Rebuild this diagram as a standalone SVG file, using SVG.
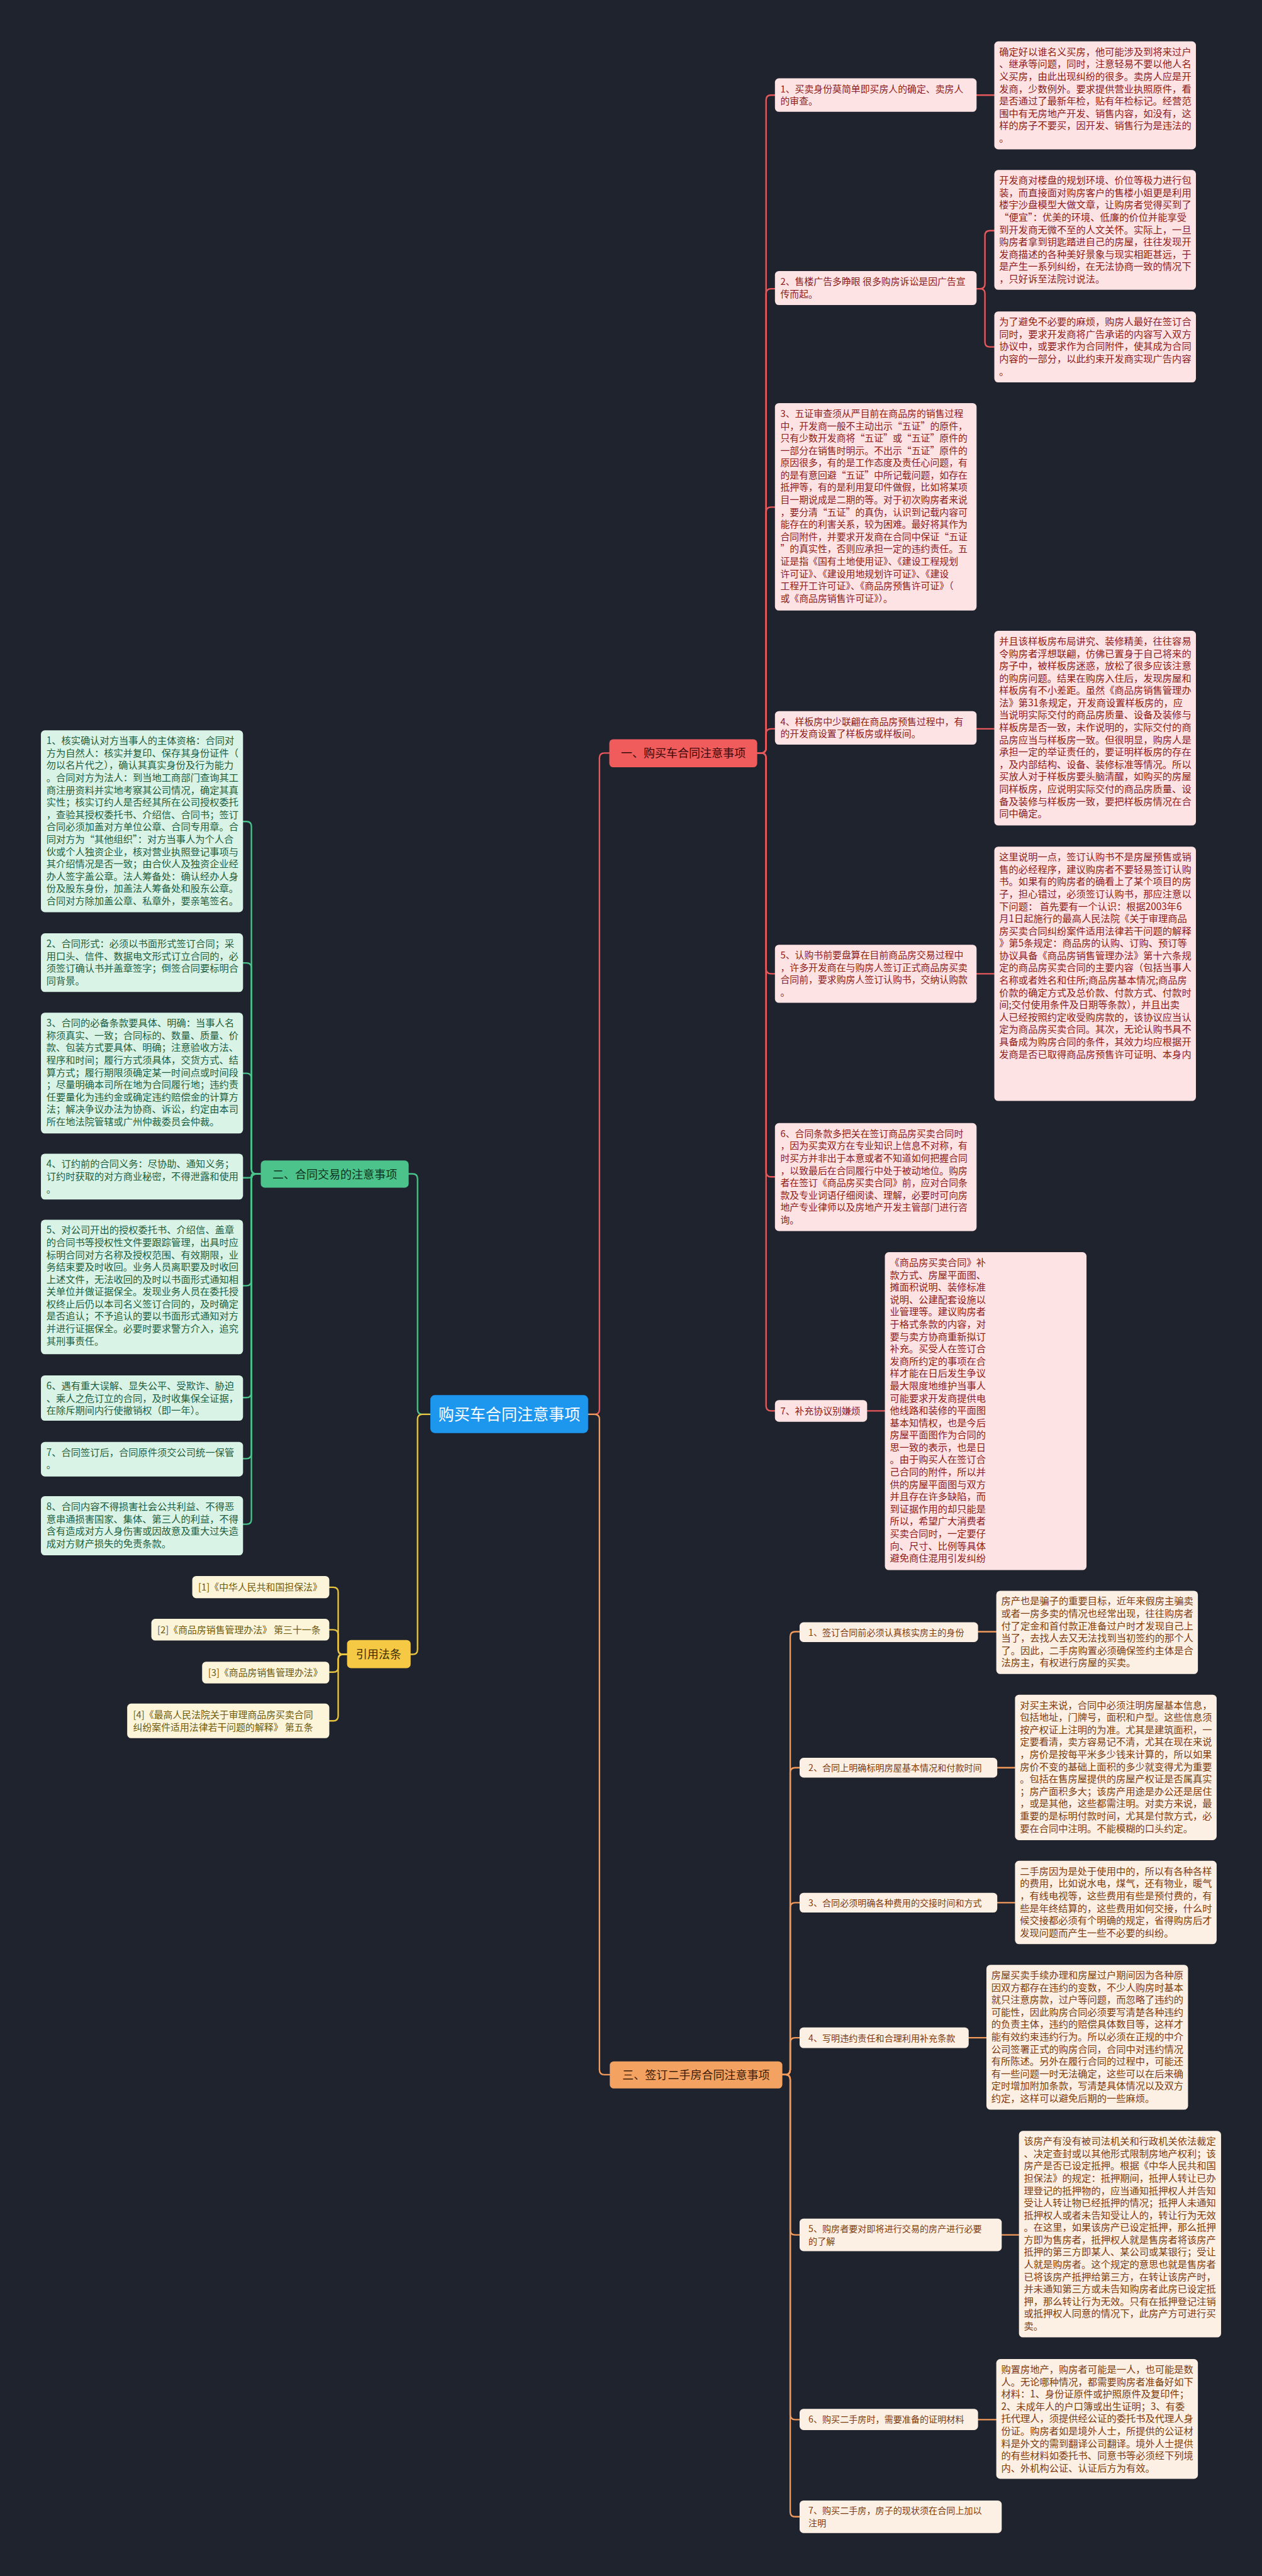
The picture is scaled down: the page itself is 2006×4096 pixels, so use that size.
<svg xmlns="http://www.w3.org/2000/svg" width="2006" height="4096" viewBox="0 0 2006 4096">
<style>
text{font-family:"Noto Sans CJK SC","Noto Sans",sans-serif;font-size:19.5px}
.ti{font-size:19px}
.tj{font-size:18px}
.tr{font-size:19px}
.p1{fill:#fde3e3}.x1{fill:#8c1d1d}
.p2{fill:#d9f4e7}.x2{fill:#1f5e40}
.p3{fill:#fcefe3}.x3{fill:#7d3d12}
.p4{fill:#fdf5d9}.x4{fill:#6d5a10}
.c{fill:none;stroke-width:3;stroke-linecap:round}
.cr{stroke:#e8585a}.cg{stroke:#49c18a}.cy{stroke:#e9c43f}.co{stroke:#f19a5b}
</style>
<rect width="2006" height="4096" fill="#1f232e"/>
<g transform="scale(0.78359)">
<g id="connectors">
<path class="c cr" d="M1193,2870 H1206 Q1216,2870 1216,2860 V1538 Q1216,1528 1226,1528 H1236"/>
<path class="c co" d="M1193,2870 H1206 Q1216,2870 1216,2880 V4200 Q1216,4210 1226,4210 H1237"/>
<path class="c cg" d="M873,2870 H857 Q847,2870 847,2860 V2392 Q847,2382 837,2382 H829"/>
<path class="c cy" d="M873,2870 H857 Q847,2870 847,2880 V3347 Q847,3357 837,3357 H833"/>
<path class="c cr" d="M1536,1528 H1544 Q1554,1528 1554,1518 V203 Q1554,193 1564,193 H1572"/>
<path class="c cr" d="M1536,1528 H1544 Q1554,1528 1554,1518 V596 Q1554,586 1564,586 H1572"/>
<path class="c cr" d="M1536,1528 H1544 Q1554,1528 1554,1518 V1039 Q1554,1029 1564,1029 H1572"/>
<path class="c cr" d="M1536,1528 H1544 Q1554,1528 1554,1518 V1489 Q1554,1479 1564,1479 H1572"/>
<path class="c cr" d="M1536,1528 H1544 Q1554,1528 1554,1538 V1966 Q1554,1976 1564,1976 H1572"/>
<path class="c cr" d="M1536,1528 H1544 Q1554,1528 1554,1538 V2378 Q1554,2388 1564,2388 H1572"/>
<path class="c cr" d="M1536,1528 H1544 Q1554,1528 1554,1538 V2853 Q1554,2863 1564,2863 H1572"/>
<path class="c cr" d="M1981,193 H2017"/>
<path class="c cr" d="M1981,586 H1988 Q1998,586 1998,576 V478 Q1998,468 2008,468 H2017"/>
<path class="c cr" d="M1981,586 H1988 Q1998,586 1998,596 V694 Q1998,704 2008,704 H2017"/>
<path class="c cr" d="M1981,1479 H2017"/>
<path class="c cr" d="M1981,1976 H2017"/>
<path class="c cr" d="M1759,2863 H1795"/>
<path class="c co" d="M1587,4210 H1593 Q1603,4210 1603,4200 V3321 Q1603,3311 1613,3311 H1622"/>
<path class="c co" d="M1587,4210 H1593 Q1603,4210 1603,4200 V3597 Q1603,3587 1613,3587 H1622"/>
<path class="c co" d="M1587,4210 H1593 Q1603,4210 1603,4200 V3871 Q1603,3861 1613,3861 H1622"/>
<path class="c co" d="M1587,4210 H1593 Q1603,4210 1603,4200 V4145 Q1603,4135 1613,4135 H1622"/>
<path class="c co" d="M1587,4210 H1593 Q1603,4210 1603,4220 V4525 Q1603,4535 1613,4535 H1622"/>
<path class="c co" d="M1587,4210 H1593 Q1603,4210 1603,4220 V4900 Q1603,4910 1613,4910 H1622"/>
<path class="c co" d="M1587,4210 H1593 Q1603,4210 1603,4220 V5097 Q1603,5107 1613,5107 H1622"/>
<path class="c co" d="M1984,3311 H2021"/>
<path class="c co" d="M2023,3587 H2059"/>
<path class="c co" d="M2023,3861 H2059"/>
<path class="c co" d="M1965,4135 H2001"/>
<path class="c co" d="M2032,4535 H2067"/>
<path class="c co" d="M1984,4910 H2021"/>
<path class="c cg" d="M529,2382 H520 Q510,2382 510,2372 V1677 Q510,1667 500,1667 H493"/>
<path class="c cg" d="M529,2382 H520 Q510,2382 510,2372 V1964 Q510,1954 500,1954 H493"/>
<path class="c cg" d="M529,2382 H520 Q510,2382 510,2372 V2188 Q510,2178 500,2178 H493"/>
<path class="c cg" d="M529,2382 H516 Q510,2382 510,2386 Q510,2390 504,2390 H493"/>
<path class="c cg" d="M529,2382 H520 Q510,2382 510,2392 V2599 Q510,2609 500,2609 H493"/>
<path class="c cg" d="M529,2382 H520 Q510,2382 510,2392 V2826 Q510,2836 500,2836 H493"/>
<path class="c cg" d="M529,2382 H520 Q510,2382 510,2392 V2950 Q510,2960 500,2960 H493"/>
<path class="c cg" d="M529,2382 H520 Q510,2382 510,2392 V3083 Q510,3093 500,3093 H493"/>
<path class="c cy" d="M704,3357 H696 Q686,3357 686,3347 V3231 Q686,3221 676,3221 H668"/>
<path class="c cy" d="M704,3357 H696 Q686,3357 686,3347 V3317 Q686,3307 676,3307 H668"/>
<path class="c cy" d="M704,3357 H696 Q686,3357 686,3367 V3383 Q686,3393 676,3393 H668"/>
<path class="c cy" d="M704,3357 H696 Q686,3357 686,3367 V3482 Q686,3492 676,3492 H668"/>
</g>
<g id="center"><rect x="873" y="2831" width="320" height="77" rx="9" fill="#1d97ee"/><text x="1033" y="2882" text-anchor="middle" style="font-size:32px" fill="#ffffff">购买车合同注意事项</text></g>
<g id="sec1"><rect x="1236" y="1500" width="300" height="57" rx="8" fill="#f05b5b"/><text x="1386" y="1537" text-anchor="middle" style="font-size:23px" fill="#3a0a0a">一、购买车合同注意事项</text></g>
<g id="sec2"><rect x="529" y="2355" width="300" height="55" rx="8" fill="#4cc38a"/><text x="679" y="2391" text-anchor="middle" style="font-size:23px" fill="#0d3322">二、合同交易的注意事项</text></g>
<g id="sec3"><rect x="1237" y="4183" width="350" height="55" rx="8" fill="#f4a262"/><text x="1412" y="4219" text-anchor="middle" style="font-size:23px" fill="#3d1d05">三、签订二手房合同注意事项</text></g>
<g id="sec4"><rect x="704" y="3328" width="129" height="57" rx="8" fill="#f6c945"/><text x="768" y="3365" text-anchor="middle" style="font-size:23px" fill="#3d2f00">引用法条</text></g>

<g id="s1i1"><rect class="p1" x="1572" y="159" width="409" height="68" rx="8"/><text class="x1 ti" x="1583" y="187">1、买卖身份莫简单即买房人的确定、卖房人</text><text class="x1 ti" x="1583" y="212">的审查。</text></g>
<g id="s1i2"><rect class="p1" x="1572" y="550" width="409" height="69" rx="8"/><text class="x1 ti" x="1583" y="578">2、售楼广告多睁眼 很多购房诉讼是因广告宣</text><text class="x1 ti" x="1583" y="603">传而起。</text></g>
<g id="s1i3"><rect class="p1" x="1572" y="818" width="409" height="421" rx="8"/>
<text class="x1 ti" x="1583" y="846">3、五证审查须从严目前在商品房的销售过程</text>
<text class="x1 ti" x="1583" y="871">中，开发商一般不主动出示“五证”的原件，</text>
<text class="x1 ti" x="1583" y="896">只有少数开发商将“五证”或“五证”原件的</text>
<text class="x1 ti" x="1583" y="921">一部分在销售时明示。不出示“五证”原件的</text>
<text class="x1 ti" x="1583" y="946">原因很多，有的是工作态度及责任心问题，有</text>
<text class="x1 ti" x="1583" y="971">的是有意回避“五证”中所记载问题，如存在</text>
<text class="x1 ti" x="1583" y="996">抵押等，有的是利用复印件做假，比如将某项</text>
<text class="x1 ti" x="1583" y="1021">目一期说成是二期的等。对于初次购房者来说</text>
<text class="x1 ti" x="1583" y="1046">，要分清“五证”的真伪，认识到记载内容可</text>
<text class="x1 ti" x="1583" y="1071">能存在的利害关系，较为困难。最好将其作为</text>
<text class="x1 ti" x="1583" y="1096">合同附件，并要求开发商在合同中保证“五证</text>
<text class="x1 ti" x="1583" y="1121">”的真实性，否则应承担一定的违约责任。五</text>
<text class="x1 ti" x="1583" y="1146">证是指《国有土地使用证》、《建设工程规划</text>
<text class="x1 ti" x="1583" y="1171">许可证》、《建设用地规划许可证》、《建设</text>
<text class="x1 ti" x="1583" y="1196">工程开工许可证》、《商品房预售许可证》（</text>
<text class="x1 ti" x="1583" y="1221">或《商品房销售许可证》）。</text></g>
<g id="s1i4"><rect class="p1" x="1572" y="1443" width="409" height="68" rx="8"/><text class="x1 ti" x="1583" y="1471">4、样板房中少联翩在商品房预售过程中，有</text><text class="x1 ti" x="1583" y="1496">的开发商设置了样板房或样板间。</text></g>
<g id="s1i5"><rect class="p1" x="1572" y="1917" width="409" height="118" rx="8"/>
<text class="x1 ti" x="1583" y="1945">5、认购书前要盘算在目前商品房交易过程中</text>
<text class="x1 ti" x="1583" y="1970">，许多开发商在与购房人签订正式商品房买卖</text>
<text class="x1 ti" x="1583" y="1995">合同前，要求购房人签订认购书，交纳认购款</text>
<text class="x1 ti" x="1583" y="2020">。</text></g>
<g id="s1i6"><rect class="p1" x="1572" y="2279" width="409" height="219" rx="8"/>
<text class="x1 ti" x="1583" y="2307">6、合同条款多把关在签订商品房买卖合同时</text>
<text class="x1 ti" x="1583" y="2332">，因为买卖双方在专业知识上信息不对称，有</text>
<text class="x1 ti" x="1583" y="2357">时买方并非出于本意或者不知道如何把握合同</text>
<text class="x1 ti" x="1583" y="2382">，以致最后在合同履行中处于被动地位。购房</text>
<text class="x1 ti" x="1583" y="2407">者在签订《商品房买卖合同》前，应对合同条</text>
<text class="x1 ti" x="1583" y="2432">款及专业词语仔细阅读、理解，必要时可向房</text>
<text class="x1 ti" x="1583" y="2457">地产专业律师以及房地产开发主管部门进行咨</text>
<text class="x1 ti" x="1583" y="2482">询。</text></g>
<g id="s1i7"><rect class="p1" x="1572" y="2841" width="187" height="44" rx="8"/><text class="x1 ti" x="1583" y="2870">7、补充协议别嫌烦</text></g>

<g id="s1b1"><rect class="p1" x="2017" y="84" width="409" height="219" rx="8"/>
<text class="x1" x="2027" y="112">确定好以谁名义买房，他可能涉及到将来过户</text>
<text class="x1" x="2027" y="137">、继承等问题，同时，注意轻易不要以他人名</text>
<text class="x1" x="2027" y="162">义买房，由此出现纠纷的很多。卖房人应是开</text>
<text class="x1" x="2027" y="187">发商，少数例外。要求提供营业执照原件，看</text>
<text class="x1" x="2027" y="212">是否通过了最新年检，贴有年检标记。经营范</text>
<text class="x1" x="2027" y="237">围中有无房地产开发、销售内容，如没有，这</text>
<text class="x1" x="2027" y="262">样的房子不要买，因开发、销售行为是违法的</text>
<text class="x1" x="2027" y="287">。</text></g>
<g id="s1b2a"><rect class="p1" x="2017" y="345" width="409" height="243" rx="8"/>
<text class="x1" x="2027" y="373">开发商对楼盘的规划环境、价位等极力进行包</text>
<text class="x1" x="2027" y="398">装，而直接面对购房客户的售楼小姐更是利用</text>
<text class="x1" x="2027" y="423">楼宇沙盘模型大做文章，让购房者觉得买到了</text>
<text class="x1" x="2027" y="448">“便宜”：优美的环境、低廉的价位并能享受</text>
<text class="x1" x="2027" y="473">到开发商无微不至的人文关怀。实际上，一旦</text>
<text class="x1" x="2027" y="498">购房者拿到钥匙踏进自己的房屋，往往发现开</text>
<text class="x1" x="2027" y="523">发商描述的各种美好景象与现实相距甚远，于</text>
<text class="x1" x="2027" y="548">是产生一系列纠纷，在无法协商一致的情况下</text>
<text class="x1" x="2027" y="573">，只好诉至法院讨说法。</text></g>
<g id="s1b2b"><rect class="p1" x="2017" y="632" width="409" height="144" rx="8"/>
<text class="x1" x="2027" y="660">为了避免不必要的麻烦，购房人最好在签订合</text>
<text class="x1" x="2027" y="685">同时，要求开发商将广告承诺的内容写入双方</text>
<text class="x1" x="2027" y="710">协议中，或要求作为合同附件，使其成为合同</text>
<text class="x1" x="2027" y="735">内容的一部分，以此约束开发商实现广告内容</text>
<text class="x1" x="2027" y="760">。</text></g>
<g id="s1b4"><rect class="p1" x="2017" y="1280" width="409" height="395" rx="8"/>
<text class="x1" x="2027" y="1308">并且该样板房布局讲究、装修精美，往往容易</text>
<text class="x1" x="2027" y="1333">令购房者浮想联翩，仿佛已置身于自己将来的</text>
<text class="x1" x="2027" y="1358">房子中，被样板房迷惑，放松了很多应该注意</text>
<text class="x1" x="2027" y="1383">的购房问题。结果在购房入住后，发现房屋和</text>
<text class="x1" x="2027" y="1408">样板房有不小差距。虽然《商品房销售管理办</text>
<text class="x1" x="2027" y="1433">法》第31条规定，开发商设置样板房的，应</text>
<text class="x1" x="2027" y="1458">当说明实际交付的商品房质量、设备及装修与</text>
<text class="x1" x="2027" y="1483">样板房是否一致，未作说明的，实际交付的商</text>
<text class="x1" x="2027" y="1508">品房应当与样板房一致。但很明显，购房人是</text>
<text class="x1" x="2027" y="1533">承担一定的举证责任的，要证明样板房的存在</text>
<text class="x1" x="2027" y="1558">，及内部结构、设备、装修标准等情况。所以</text>
<text class="x1" x="2027" y="1583">买放人对于样板房要头脑清醒，如购买的房屋</text>
<text class="x1" x="2027" y="1608">同样板房，应说明实际交付的商品房质量、设</text>
<text class="x1" x="2027" y="1633">备及装修与样板房一致，要把样板房情况在合</text>
<text class="x1" x="2027" y="1658">同中确定。</text></g>
<g id="s1b5"><rect class="p1" x="2017" y="1718" width="409" height="516" rx="8"/>
<text class="x1" x="2027" y="1746">这里说明一点，签订认购书不是房屋预售或销</text>
<text class="x1" x="2027" y="1771">售的必经程序，建议购房者不要轻易签订认购</text>
<text class="x1" x="2027" y="1796">书。如果有的购房者的确看上了某个项目的房</text>
<text class="x1" x="2027" y="1821">子，担心错过，必须签订认购书，那应注意以</text>
<text class="x1" x="2027" y="1846">下问题： 首先要有一个认识：根据2003年6</text>
<text class="x1" x="2027" y="1871">月1日起施行的最高人民法院《关于审理商品</text>
<text class="x1" x="2027" y="1896">房买卖合同纠纷案件适用法律若干问题的解释</text>
<text class="x1" x="2027" y="1921">》第5条规定：商品房的认购、订购、预订等</text>
<text class="x1" x="2027" y="1946">协议具备《商品房销售管理办法》第十六条规</text>
<text class="x1" x="2027" y="1971">定的商品房买卖合同的主要内容（包括当事人</text>
<text class="x1" x="2027" y="1996">名称或者姓名和住所;商品房基本情况;商品房</text>
<text class="x1" x="2027" y="2021">价款的确定方式及总价款、付款方式、付款时</text>
<text class="x1" x="2027" y="2046">间;交付使用条件及日期等条款），并且出卖</text>
<text class="x1" x="2027" y="2071">人已经按照约定收受购房款的，该协议应当认</text>
<text class="x1" x="2027" y="2096">定为商品房买卖合同。其次，无论认购书具不</text>
<text class="x1" x="2027" y="2121">具备成为购房合同的条件，其效力均应根据开</text>
<text class="x1" x="2027" y="2146">发商是否已取得商品房预售许可证明、本身内</text></g>
<g id="s1b7"><rect class="p1" x="1795" y="2541" width="409" height="645" rx="8"/>
<text class="x1" x="1805" y="2569">《商品房买卖合同》补</text>
<text class="x1" x="1805" y="2594">款方式、房屋平面图、</text>
<text class="x1" x="1805" y="2619">摊面积说明、装修标准</text>
<text class="x1" x="1805" y="2644">说明、公建配套设施以</text>
<text class="x1" x="1805" y="2669">业管理等。建议购房者</text>
<text class="x1" x="1805" y="2694">于格式条款的内容，对</text>
<text class="x1" x="1805" y="2719">要与卖方协商重新拟订</text>
<text class="x1" x="1805" y="2744">补充。买受人在签订合</text>
<text class="x1" x="1805" y="2769">发商所约定的事项在合</text>
<text class="x1" x="1805" y="2794">样才能在日后发生争议</text>
<text class="x1" x="1805" y="2819">最大限度地维护当事人</text>
<text class="x1" x="1805" y="2844">可能要求开发商提供电</text>
<text class="x1" x="1805" y="2869">他线路和装修的平面图</text>
<text class="x1" x="1805" y="2894">基本知情权，也是今后</text>
<text class="x1" x="1805" y="2919">房屋平面图作为合同的</text>
<text class="x1" x="1805" y="2944">思一致的表示，也是日</text>
<text class="x1" x="1805" y="2969">。由于购买人在签订合</text>
<text class="x1" x="1805" y="2994">己合同的附件，所以并</text>
<text class="x1" x="1805" y="3019">供的房屋平面图与双方</text>
<text class="x1" x="1805" y="3044">并且存在许多缺陷，而</text>
<text class="x1" x="1805" y="3069">到证据作用的却只能是</text>
<text class="x1" x="1805" y="3094">所以，希望广大消费者</text>
<text class="x1" x="1805" y="3119">买卖合同时，一定要仔</text>
<text class="x1" x="1805" y="3144">向、尺寸、比例等具体</text>
<text class="x1" x="1805" y="3169">避免商住混用引发纠纷</text></g>

<g id="s3i1"><rect class="p3" x="1622" y="3292" width="362" height="40" rx="8"/><text class="x3 tj" x="1640" y="3319">1、签订合同前必须认真核实房主的身份</text></g>
<g id="s3i2"><rect class="p3" x="1622" y="3567" width="401" height="40" rx="8"/><text class="x3 tj" x="1640" y="3594">2、合同上明确标明房屋基本情况和付款时间</text></g>
<g id="s3i3"><rect class="p3" x="1622" y="3841" width="401" height="40" rx="8"/><text class="x3 tj" x="1640" y="3868">3、合同必须明确各种费用的交接时间和方式</text></g>
<g id="s3i4"><rect class="p3" x="1622" y="4114" width="343" height="42" rx="8"/><text class="x3 tj" x="1640" y="4142">4、写明违约责任和合理利用补充条款</text></g>
<g id="s3i5"><rect class="p3" x="1622" y="4502" width="410" height="66" rx="8"/><text class="x3 tj" x="1640" y="4529">5、购房者要对即将进行交易的房产进行必要</text><text class="x3 tj" x="1640" y="4555">的了解</text></g>
<g id="s3i6"><rect class="p3" x="1622" y="4888" width="362" height="43" rx="8"/><text class="x3 tj" x="1640" y="4916">6、购买二手房时，需要准备的证明材料</text></g>
<g id="s3i7"><rect class="p3" x="1622" y="5074" width="410" height="66" rx="8"/><text class="x3 tj" x="1640" y="5101">7、购买二手房，房子的现状须在合同上加以</text><text class="x3 tj" x="1640" y="5127">注明</text></g>

<g id="s3b1"><rect class="p3" x="2021" y="3228" width="409" height="169" rx="8"/>
<text class="x3" x="2031" y="3256">房产也是骗子的重要目标，近年来假房主骗卖</text>
<text class="x3" x="2031" y="3281">或者一房多卖的情况也经常出现，往往购房者</text>
<text class="x3" x="2031" y="3306">付了定金和首付款正准备过户时才发现自己上</text>
<text class="x3" x="2031" y="3331">当了，去找人去又无法找到当初签约的那个人</text>
<text class="x3" x="2031" y="3356">了。因此，二手房购置必须确保签约主体是合</text>
<text class="x3" x="2031" y="3381">法房主，有权进行房屋的买卖。</text></g>
<g id="s3b2"><rect class="p3" x="2059" y="3439" width="409" height="295" rx="8"/>
<text class="x3" x="2069" y="3467">对买主来说，合同中必须注明房屋基本信息，</text>
<text class="x3" x="2069" y="3492">包括地址，门牌号，面积和户型。这些信息须</text>
<text class="x3" x="2069" y="3517">按产权证上注明的为准。尤其是建筑面积，一</text>
<text class="x3" x="2069" y="3542">定要看清，卖方容易记不清，尤其在现在来说</text>
<text class="x3" x="2069" y="3567">，房价是按每平米多少钱来计算的，所以如果</text>
<text class="x3" x="2069" y="3592">房价不变的基础上面积的多少就变得尤为重要</text>
<text class="x3" x="2069" y="3617">。包括在售房屋提供的房屋产权证是否属真实</text>
<text class="x3" x="2069" y="3642">；房产面积多大；该房产用途是办公还是居住</text>
<text class="x3" x="2069" y="3667">，或是其他，这些都需注明。对卖方来说，最</text>
<text class="x3" x="2069" y="3692">重要的是标明付款时间，尤其是付款方式，必</text>
<text class="x3" x="2069" y="3717">要在合同中注明。不能模糊的口头约定。</text></g>
<g id="s3b3"><rect class="p3" x="2059" y="3776" width="409" height="169" rx="8"/>
<text class="x3" x="2069" y="3804">二手房因为是处于使用中的，所以有各种各样</text>
<text class="x3" x="2069" y="3829">的费用，比如说水电，煤气，还有物业，暖气</text>
<text class="x3" x="2069" y="3854">，有线电视等，这些费用有些是预付费的，有</text>
<text class="x3" x="2069" y="3879">些是年终结算的，这些费用如何交接，什么时</text>
<text class="x3" x="2069" y="3904">候交接都必须有个明确的规定，省得购房后才</text>
<text class="x3" x="2069" y="3929">发现问题而产生一些不必要的纠纷。</text></g>
<g id="s3b4"><rect class="p3" x="2001" y="3987" width="409" height="294" rx="8"/>
<text class="x3" x="2011" y="4015">房屋买卖手续办理和房屋过户期间因为各种原</text>
<text class="x3" x="2011" y="4040">因双方都存在违约的变数，不少人购房时基本</text>
<text class="x3" x="2011" y="4065">就只注意房款，过户等问题，而忽略了违约的</text>
<text class="x3" x="2011" y="4090">可能性，因此购房合同必须要写清楚各种违约</text>
<text class="x3" x="2011" y="4115">的负责主体，违约的赔偿具体数目等，这样才</text>
<text class="x3" x="2011" y="4140">能有效约束违约行为。所以必须在正规的中介</text>
<text class="x3" x="2011" y="4165">公司签署正式的购房合同，合同中对违约情况</text>
<text class="x3" x="2011" y="4190">有所陈述。另外在履行合同的过程中，可能还</text>
<text class="x3" x="2011" y="4215">有一些问题一时无法确定，这些可以在后来确</text>
<text class="x3" x="2011" y="4240">定时增加附加条款，写清楚具体情况以及双方</text>
<text class="x3" x="2011" y="4265">约定，这样可以避免后期的一些麻烦。</text></g>
<g id="s3b5"><rect class="p3" x="2067" y="4324" width="410" height="419" rx="8"/>
<text class="x3" x="2077" y="4352">该房产有没有被司法机关和行政机关依法裁定</text>
<text class="x3" x="2077" y="4377">、决定查封或以其他形式限制房地产权利；该</text>
<text class="x3" x="2077" y="4402">房产是否已设定抵押。根据《中华人民共和国</text>
<text class="x3" x="2077" y="4427">担保法》的规定：抵押期间，抵押人转让已办</text>
<text class="x3" x="2077" y="4452">理登记的抵押物的，应当通知抵押权人并告知</text>
<text class="x3" x="2077" y="4477">受让人转让物已经抵押的情况；抵押人未通知</text>
<text class="x3" x="2077" y="4502">抵押权人或者未告知受让人的，转让行为无效</text>
<text class="x3" x="2077" y="4527">。在这里，如果该房产已设定抵押，那么抵押</text>
<text class="x3" x="2077" y="4552">方即为售房者，抵押权人就是售房者将该房产</text>
<text class="x3" x="2077" y="4577">抵押的第三方即某人、某公司或某银行；受让</text>
<text class="x3" x="2077" y="4602">人就是购房者。这个规定的意思也就是售房者</text>
<text class="x3" x="2077" y="4627">已将该房产抵押给第三方，在转让该房产时，</text>
<text class="x3" x="2077" y="4652">并未通知第三方或未告知购房者此房已设定抵</text>
<text class="x3" x="2077" y="4677">押，那么转让行为无效。只有在抵押登记注销</text>
<text class="x3" x="2077" y="4702">或抵押权人同意的情况下，此房产方可进行买</text>
<text class="x3" x="2077" y="4727">卖。</text></g>
<g id="s3b6"><rect class="p3" x="2021" y="4787" width="409" height="243" rx="8"/>
<text class="x3" x="2031" y="4815">购置房地产，购房者可能是一人，也可能是数</text>
<text class="x3" x="2031" y="4840">人。无论哪种情况，都需要购房者准备好如下</text>
<text class="x3" x="2031" y="4865">材料：1、身份证原件或护照原件及复印件；</text>
<text class="x3" x="2031" y="4890">2、未成年人的户口簿或出生证明；3、有委</text>
<text class="x3" x="2031" y="4915">托代理人，须提供经公证的委托书及代理人身</text>
<text class="x3" x="2031" y="4940">份证。购房者如是境外人士，所提供的公证材</text>
<text class="x3" x="2031" y="4965">料是外文的需到翻译公司翻译。境外人士提供</text>
<text class="x3" x="2031" y="4990">的有些材料如委托书、同意书等必须经下列境</text>
<text class="x3" x="2031" y="5015">内、外机构公证、认证后方为有效。</text></g>

<g id="s2b1"><rect class="p2" x="83" y="1482" width="410" height="369" rx="8"/>
<text class="x2" x="94" y="1510">1、核实确认对方当事人的主体资格：合同对</text>
<text class="x2" x="94" y="1535">方为自然人：核实并复印、保存其身份证件（</text>
<text class="x2" x="94" y="1560">勿以名片代之），确认其真实身份及行为能力</text>
<text class="x2" x="94" y="1585">。合同对方为法人：到当地工商部门查询其工</text>
<text class="x2" x="94" y="1610">商注册资料并实地考察其公司情况，确定其真</text>
<text class="x2" x="94" y="1635">实性；核实订约人是否经其所在公司授权委托</text>
<text class="x2" x="94" y="1660">，查验其授权委托书、介绍信、合同书；签订</text>
<text class="x2" x="94" y="1685">合同必须加盖对方单位公章、合同专用章。合</text>
<text class="x2" x="94" y="1710">同对方为“其他组织”：对方当事人为个人合</text>
<text class="x2" x="94" y="1735">伙或个人独资企业，核对营业执照登记事项与</text>
<text class="x2" x="94" y="1760">其介绍情况是否一致；由合伙人及独资企业经</text>
<text class="x2" x="94" y="1785">办人签字盖公章。法人筹备处：确认经办人身</text>
<text class="x2" x="94" y="1810">份及股东身份，加盖法人筹备处和股东公章。</text>
<text class="x2" x="94" y="1835">合同对方除加盖公章、私章外，要亲笔签名。</text></g>
<g id="s2b2"><rect class="p2" x="83" y="1894" width="410" height="119" rx="8"/>
<text class="x2" x="94" y="1922">2、合同形式：必须以书面形式签订合同；采</text>
<text class="x2" x="94" y="1947">用口头、信件、数据电文形式订立合同的，必</text>
<text class="x2" x="94" y="1972">须签订确认书并盖章签字；倒签合同要标明合</text>
<text class="x2" x="94" y="1997">同背景。</text></g>
<g id="s2b3"><rect class="p2" x="83" y="2055" width="410" height="245" rx="8"/>
<text class="x2" x="94" y="2083">3、合同的必备条款要具体、明确：当事人名</text>
<text class="x2" x="94" y="2108">称须真实、一致；合同标的、数量、质量、价</text>
<text class="x2" x="94" y="2133">款、包装方式要具体、明确；注意验收方法、</text>
<text class="x2" x="94" y="2158">程序和时间；履行方式须具体，交货方式、结</text>
<text class="x2" x="94" y="2183">算方式；履行期限须确定某一时间点或时间段</text>
<text class="x2" x="94" y="2208">；尽量明确本司所在地为合同履行地；违约责</text>
<text class="x2" x="94" y="2233">任要量化为违约金或确定违约赔偿金的计算方</text>
<text class="x2" x="94" y="2258">法；解决争议办法为协商、诉讼，约定由本司</text>
<text class="x2" x="94" y="2283">所在地法院管辖或广州仲裁委员会仲裁。</text></g>
<g id="s2b4"><rect class="p2" x="83" y="2341" width="410" height="93" rx="8"/>
<text class="x2" x="94" y="2369">4、订约前的合同义务：尽协助、通知义务；</text>
<text class="x2" x="94" y="2394">订约时获取的对方商业秘密，不得泄露和使用</text>
<text class="x2" x="94" y="2419">。</text></g>
<g id="s2b5"><rect class="p2" x="83" y="2475" width="410" height="273" rx="8"/>
<text class="x2" x="94" y="2503">5、对公司开出的授权委托书、介绍信、盖章</text>
<text class="x2" x="94" y="2528">的合同书等授权性文件要跟踪管理，出具时应</text>
<text class="x2" x="94" y="2553">标明合同对方名称及授权范围、有效期限，业</text>
<text class="x2" x="94" y="2578">务结束要及时收回。业务人员离职要及时收回</text>
<text class="x2" x="94" y="2603">上述文件，无法收回的及时以书面形式通知相</text>
<text class="x2" x="94" y="2628">关单位并做证据保全。发现业务人员在委托授</text>
<text class="x2" x="94" y="2653">权终止后仍以本司名义签订合同的，及时确定</text>
<text class="x2" x="94" y="2678">是否追认；不予追认的要以书面形式通知对方</text>
<text class="x2" x="94" y="2703">并进行证据保全。必要时要求警方介入，追究</text>
<text class="x2" x="94" y="2728">其刑事责任。</text></g>
<g id="s2b6"><rect class="p2" x="83" y="2791" width="410" height="92" rx="8"/>
<text class="x2" x="94" y="2819">6、遇有重大误解、显失公平、受欺诈、胁迫</text>
<text class="x2" x="94" y="2844">、乘人之危订立的合同，及时收集保全证据，</text>
<text class="x2" x="94" y="2869">在除斥期间内行使撤销权（即一年）。</text></g>
<g id="s2b7"><rect class="p2" x="83" y="2926" width="410" height="70" rx="8"/>
<text class="x2" x="94" y="2954">7、合同签订后，合同原件须交公司统一保管</text>
<text class="x2" x="94" y="2979">。</text></g>
<g id="s2b8"><rect class="p2" x="83" y="3036" width="410" height="120" rx="8"/>
<text class="x2" x="94" y="3064">8、合同内容不得损害社会公共利益、不得恶</text>
<text class="x2" x="94" y="3089">意串通损害国家、集体、第三人的利益，不得</text>
<text class="x2" x="94" y="3114">含有造成对方人身伤害或因故意及重大过失造</text>
<text class="x2" x="94" y="3139">成对方财产损失的免责条款。</text></g>

<g id="ref1"><rect class="p4" x="390" y="3198" width="278" height="45" rx="8"/><text class="x4 tr" x="402" y="3228">[1]《中华人民共和国担保法》</text></g>
<g id="ref2"><rect class="p4" x="307" y="3285" width="361" height="44" rx="8"/><text class="x4 tr" x="319" y="3314">[2]《商品房销售管理办法》 第三十一条</text></g>
<g id="ref3"><rect class="p4" x="410" y="3372" width="258" height="44" rx="8"/><text class="x4 tr" x="422" y="3401">[3]《商品房销售管理办法》</text></g>
<g id="ref4"><rect class="p4" x="258" y="3457" width="410" height="70" rx="8"/><text class="x4 tr" x="270" y="3487">[4]《最高人民法院关于审理商品房买卖合同</text><text class="x4 tr" x="270" y="3512">纠纷案件适用法律若干问题的解释》 第五条</text></g>
</g>
</svg>
